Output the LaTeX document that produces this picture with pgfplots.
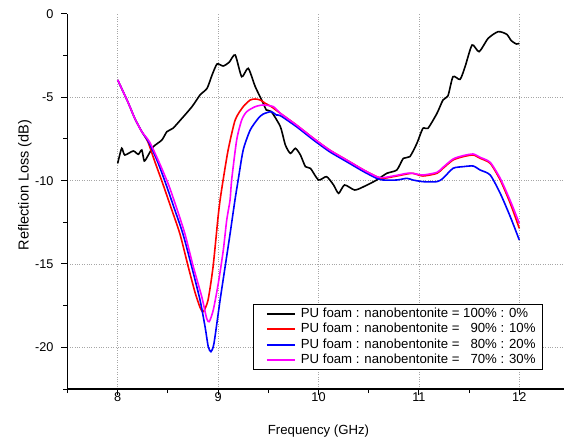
\documentclass[border=0pt]{standalone}
\usepackage{pgfplots}
\pgfplotsset{compat=1.18}
\usepackage{fontspec}
\setmainfont{Liberation Sans}
\definecolor{cred}{RGB}{255,0,0}
\definecolor{cblue}{RGB}{0,0,255}
\definecolor{cmag}{RGB}{255,0,255}
\begin{document}
\begin{tikzpicture}
\begin{axis}[
  scale only axis, width=502pt, height=375pt,
  xmin=7.5, xmax=12.5, ymin=-22.5, ymax=0,
  axis x line*=bottom, axis y line*=left,
  axis line style={line width=1.1pt},
  xtick={8,9,10,11,12}, xticklabels={8,9,10,11,12},
  minor xtick={7.5,8.5,9.5,10.5,11.5,12.5},
  ytick={-20,-15,-10,-5}, yticklabels={-20,-15,-10,-5},
  extra y ticks={0}, extra y tick labels={0},
  extra tick style={grid=none},
  minor ytick={-22.5,-17.5,-12.5,-7.5,-2.5},
  tick align=outside,
  major tick length=6pt, minor tick length=4pt,
  tick style={black, line width=1.0pt},
  xmajorgrids, ymajorgrids,
  major grid style={dotted, gray!70, line width=0.6pt},
  tick label style={font=\fontsize{12.7}{15}\selectfont},
  x tick label style={yshift=6pt},
  y tick label style={xshift=-4.5pt},
  xlabel={Frequency (GHz)}, ylabel={Reflection Loss (dB)},
  every axis x label/.style={at={(axis description cs:0.5,-0.1133)}, anchor=center, font=\fontsize{13.2}{15}\selectfont},
  every axis y label/.style={at={(axis description cs:-0.0847,0.544)}, rotate=90, anchor=center, font=\fontsize{14.5}{16}\selectfont},
  legend cell align=left,
  legend image code/.code={\path (0pt,0pt); \draw[#1, line width=1.8pt] (6pt,0pt) -- (34pt,0pt);},
  legend style={at={(axis cs:12.236,-21.36)}, anchor=south east, draw=black, line width=0.8pt, fill=white,
    font=\fontsize{13.2}{15}\selectfont, inner xsep=7pt, inner ysep=2.75pt,
    nodes={inner sep=0pt, text height=10pt, text depth=3pt}, row sep=2.5pt, column sep=5pt},
  every axis plot/.append style={smooth, tension=0.4},
]
\addplot[black, line width=1.6pt] coordinates {
(8.00,-8.96)(8.04,-8.06)(8.07,-8.46)(8.155,-8.22)(8.205,-8.42)(8.24,-8.16)(8.265,-8.82)(8.305,-8.46)(8.355,-7.96)(8.44,-7.56)(8.49,-7.06)(8.55,-6.86)(8.64,-6.26)(8.74,-5.56)(8.82,-4.86)(8.89,-4.46)(8.94,-3.66)(8.99,-3.0)(9.05,-3.12)(9.11,-2.9)(9.17,-2.46)(9.235,-3.76)(9.30,-3.26)(9.37,-4.36)(9.45,-5.36)(9.48,-5.76)(9.53,-5.86)(9.62,-6.76)(9.67,-7.86)(9.72,-8.36)(9.77,-8.06)(9.82,-8.46)(9.87,-9.16)(9.92,-9.26)(10.00,-9.96)(10.08,-9.76)(10.15,-10.26)(10.20,-10.76)(10.26,-10.26)(10.36,-10.56)(10.45,-10.36)(10.58,-9.96)(10.68,-9.56)(10.78,-9.36)(10.845,-8.66)(10.91,-8.56)(10.98,-7.76)(11.04,-6.86)(11.09,-6.86)(11.18,-5.96)(11.24,-5.16)(11.29,-4.9)(11.34,-3.76)(11.41,-3.92)(11.46,-3.16)(11.53,-1.86)(11.60,-2.26)(11.69,-1.46)(11.79,-1.06)(11.875,-1.22)(11.92,-1.6)(11.97,-1.8)(12.00,-1.76)
};
\addlegendentry{PU foam : nanobentonite = 100\% : 0\%}
\addplot[cred, line width=1.6pt] coordinates {
(8.00,-3.96)(8.10,-5.26)(8.17,-6.26)(8.24,-7.06)(8.30,-7.66)(8.37,-8.86)(8.45,-10.2)(8.53,-11.6)(8.62,-13.2)(8.70,-15.1)(8.77,-16.7)(8.82,-17.6)(8.853,-17.86)(8.90,-17.16)(8.95,-15.16)(9.00,-12.16)(9.02,-11.16)(9.05,-9.96)(9.10,-8.16)(9.17,-6.36)(9.25,-5.56)(9.32,-5.16)(9.37,-5.1)(9.42,-5.16)(9.47,-5.36)(9.53,-5.56)(9.62,-5.96)(9.78,-6.66)(9.95,-7.46)(10.11,-8.16)(10.28,-8.76)(10.45,-9.36)(10.58,-9.76)(10.645,-9.86)(10.78,-9.72)(10.88,-9.6)(10.94,-9.56)(11.04,-9.72)(11.18,-9.56)(11.24,-9.26)(11.34,-8.76)(11.44,-8.56)(11.54,-8.46)(11.61,-8.66)(11.71,-8.96)(11.81,-9.96)(11.91,-11.36)(12.00,-12.86)
};
\addlegendentry{PU foam : nanobentonite = \phantom{1}90\% : 10\%}
\addplot[cblue, line width=1.6pt] coordinates {
(8.00,-3.96)(8.10,-5.26)(8.17,-6.26)(8.24,-7.06)(8.31,-7.7)(8.40,-8.9)(8.48,-10.2)(8.56,-11.6)(8.65,-13.2)(8.737,-15.16)(8.82,-17.16)(8.87,-18.76)(8.902,-19.96)(8.929,-20.26)(8.959,-19.76)(9.02,-17.16)(9.07,-15.16)(9.12,-13.16)(9.168,-11.16)(9.20,-9.96)(9.25,-8.16)(9.32,-6.96)(9.40,-6.26)(9.45,-6.0)(9.53,-5.86)(9.58,-6.06)(9.62,-6.1)(9.78,-6.76)(9.95,-7.56)(10.11,-8.26)(10.28,-8.86)(10.45,-9.46)(10.58,-9.86)(10.645,-9.96)(10.78,-9.96)(10.88,-9.86)(10.94,-9.96)(11.04,-10.06)(11.18,-10.06)(11.24,-9.86)(11.34,-9.26)(11.44,-9.16)(11.54,-9.12)(11.61,-9.36)(11.71,-9.66)(11.81,-10.76)(11.91,-12.16)(12.00,-13.56)
};
\addlegendentry{PU foam : nanobentonite = \phantom{1}80\% : 20\%}
\addplot[cmag, line width=1.6pt] coordinates {
(8.00,-3.96)(8.10,-5.26)(8.17,-6.26)(8.24,-7.06)(8.32,-7.7)(8.42,-9.0)(8.51,-10.3)(8.59,-11.7)(8.67,-13.2)(8.753,-15.16)(8.837,-16.96)(8.886,-18.26)(8.912,-18.46)(8.952,-17.76)(9.002,-16.16)(9.052,-14.16)(9.086,-12.36)(9.119,-11.16)(9.135,-9.96)(9.185,-7.56)(9.235,-6.36)(9.285,-5.86)(9.37,-5.56)(9.45,-5.46)(9.55,-5.56)(9.62,-5.96)(9.78,-6.66)(9.95,-7.46)(10.11,-8.16)(10.28,-8.76)(10.45,-9.36)(10.58,-9.76)(10.645,-9.82)(10.78,-9.68)(10.88,-9.56)(10.94,-9.56)(11.04,-9.66)(11.18,-9.5)(11.24,-9.2)(11.34,-8.7)(11.44,-8.5)(11.54,-8.4)(11.61,-8.6)(11.71,-8.9)(11.81,-9.86)(11.91,-11.2)(12.00,-12.56)
};
\addlegendentry{PU foam : nanobentonite = \phantom{1}70\% : 30\%}
\end{axis}
\pgfresetboundingbox
\useasboundingbox (current axis.south west) ++(-67.5pt,-52pt) rectangle ++(564pt,441pt);
\end{tikzpicture}
\end{document}
